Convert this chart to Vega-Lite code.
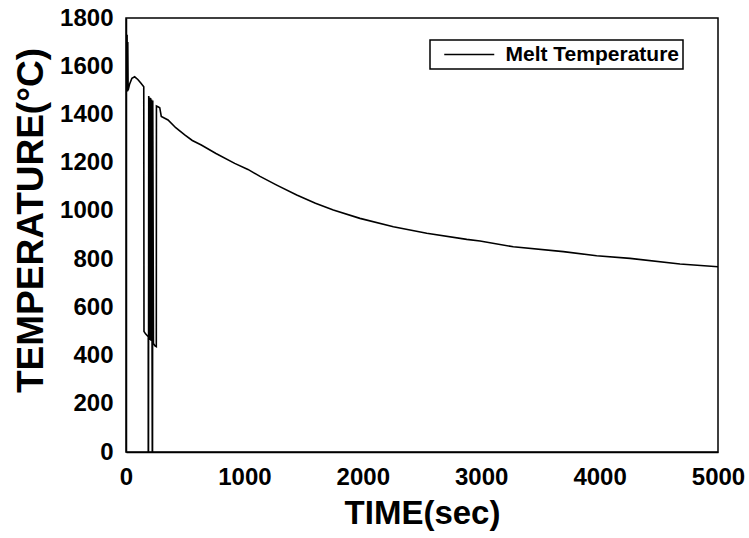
{
  "$schema": "https://vega.github.io/schema/vega-lite/v6.json",
  "width": 592,
  "height": 434,
  "autosize": {"type": "none"},
  "padding": {"left": 126, "top": 18, "right": 31, "bottom": 86},
  "background": "white",
  "config": {
    "view": {"stroke": "black", "strokeWidth": 1.5},
    "font": "Liberation Sans",
    "axis": {
      "grid": false,
      "domainColor": "black",
      "domainWidth": 1.5,
      "tickColor": "black",
      "tickWidth": 1.5,
      "labelFont": "Liberation Sans",
      "labelFontWeight": "bold",
      "labelFontSize": 24,
      "labelColor": "black",
      "titleFont": "Liberation Sans",
      "titleFontWeight": "bold",
      "titleColor": "black"
    }
  },
  "data": {
    "values": [
      {"i": 0, "t": 0, "T": 1490},
      {"i": 1, "t": 3, "T": 1720},
      {"i": 2, "t": 6, "T": 1500},
      {"i": 3, "t": 9, "T": 1730},
      {"i": 4, "t": 12, "T": 1495},
      {"i": 5, "t": 15, "T": 1700},
      {"i": 6, "t": 18, "T": 1500},
      {"i": 7, "t": 30, "T": 1525},
      {"i": 8, "t": 50, "T": 1550},
      {"i": 9, "t": 73, "T": 1556},
      {"i": 10, "t": 100, "T": 1545},
      {"i": 11, "t": 125, "T": 1530},
      {"i": 12, "t": 150, "T": 1515},
      {"i": 13, "t": 152, "T": 500},
      {"i": 14, "t": 165, "T": 490},
      {"i": 15, "t": 180, "T": 482},
      {"i": 16, "t": 188, "T": 478},
      {"i": 17, "t": 188, "T": 0},
      {"i": 18, "t": 190, "T": 0},
      {"i": 19, "t": 192, "T": 1476},
      {"i": 20, "t": 196, "T": 470},
      {"i": 21, "t": 200, "T": 1470},
      {"i": 22, "t": 204, "T": 465},
      {"i": 23, "t": 208, "T": 1468},
      {"i": 24, "t": 212, "T": 460},
      {"i": 25, "t": 216, "T": 1462},
      {"i": 26, "t": 220, "T": 455},
      {"i": 27, "t": 222, "T": 0},
      {"i": 28, "t": 224, "T": 0},
      {"i": 29, "t": 226, "T": 1458},
      {"i": 30, "t": 232, "T": 450},
      {"i": 31, "t": 245, "T": 440},
      {"i": 32, "t": 256, "T": 437},
      {"i": 33, "t": 257, "T": 1435},
      {"i": 34, "t": 270, "T": 1432},
      {"i": 35, "t": 285, "T": 1428},
      {"i": 36, "t": 298, "T": 1392},
      {"i": 37, "t": 355, "T": 1377},
      {"i": 38, "t": 420, "T": 1345},
      {"i": 39, "t": 496, "T": 1315},
      {"i": 40, "t": 560, "T": 1292},
      {"i": 41, "t": 636, "T": 1273},
      {"i": 42, "t": 760, "T": 1238},
      {"i": 43, "t": 918, "T": 1197},
      {"i": 44, "t": 1030, "T": 1172},
      {"i": 45, "t": 1132, "T": 1143},
      {"i": 46, "t": 1273, "T": 1107},
      {"i": 47, "t": 1442, "T": 1066},
      {"i": 48, "t": 1600, "T": 1032},
      {"i": 49, "t": 1751, "T": 1004},
      {"i": 50, "t": 1976, "T": 969},
      {"i": 51, "t": 2258, "T": 934},
      {"i": 52, "t": 2540, "T": 907},
      {"i": 53, "t": 2878, "T": 882},
      {"i": 54, "t": 2990, "T": 875},
      {"i": 55, "t": 3271, "T": 851},
      {"i": 56, "t": 3694, "T": 831},
      {"i": 57, "t": 3975, "T": 814},
      {"i": 58, "t": 4257, "T": 803},
      {"i": 59, "t": 4679, "T": 780},
      {"i": 60, "t": 5000, "T": 768}
    ]
  },
  "mark": {"type": "line", "strokeWidth": 1.6, "clip": true},
  "encoding": {
    "x": {
      "field": "t",
      "type": "quantitative",
      "scale": {"domain": [0, 5000], "nice": false},
      "axis": {
        "title": "TIME(sec)",
        "titleFontSize": 33,
        "titleBaseline": "alphabetic",
        "titleY": 71,
        "values": [0, 500, 1000, 1500, 2000, 2500, 3000, 3500, 4000, 4500, 5000],
        "labelExpr": "datum.value % 1000 === 0 ? datum.label : ''",
        "format": "d",
        "tickSize": 0,
        "labelPadding": 13,
        "labelFlush": false,
        "labelOverlap": false,
        "encode": {"ticks": {"update": {"y2": {"signal": "datum.value % 1000 === 0 ? -10 : -6"}}}}
      }
    },
    "y": {
      "field": "T",
      "type": "quantitative",
      "scale": {"domain": [0, 1800], "nice": false},
      "axis": {
        "title": "TEMPERATURE(°C)",
        "titleFontSize": 37,
        "titleBaseline": "alphabetic",
        "titleX": -84,
        "titleY": 202,
        "titleAngle": -90,
        "titleAlign": "center",
        "values": [0, 100, 200, 300, 400, 500, 600, 700, 800, 900, 1000, 1100, 1200, 1300, 1400, 1500, 1600, 1700, 1800],
        "labelExpr": "datum.value % 200 === 0 ? datum.label : ''",
        "format": "d",
        "tickSize": 0,
        "labelPadding": 13,
        "labelFlush": false,
        "labelOverlap": false,
        "encode": {"ticks": {"update": {"x2": {"signal": "datum.value % 200 === 0 ? 10 : 6"}}}}
      }
    },
    "order": {"field": "i", "type": "quantitative"},
    "color": {
      "datum": "Melt Temperature",
      "type": "nominal",
      "scale": {"range": ["black"]},
      "legend": {
        "title": null,
        "orient": "none",
        "legendX": 304,
        "legendY": 22,
        "strokeColor": "black",
        "fillColor": "white",
        "padding": 4,
        "symbolType": "M-4,0H4",
        "symbolSize": 156.25,
        "symbolStrokeWidth": 1.5,
        "symbolOffset": 24.75,
        "labelFont": "Liberation Sans",
        "labelFontWeight": "bold",
        "labelFontSize": 21,
        "labelColor": "black",
        "labelOffset": 25.75,
        "labelLimit": 400,
        "encode": {"legend": {"update": {"strokeWidth": {"value": 1.5}}}}
      }
    }
  }
}
